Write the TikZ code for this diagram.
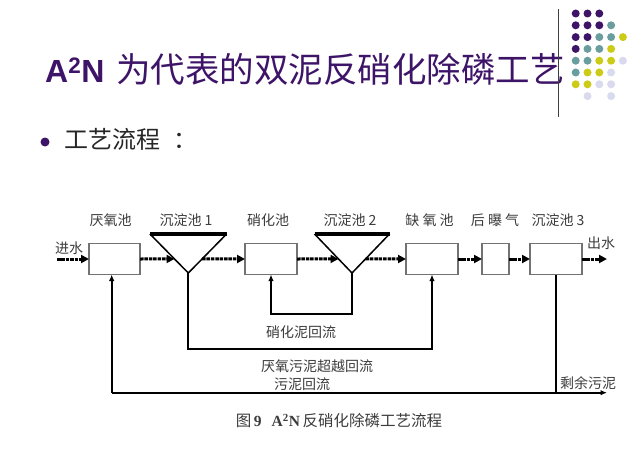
\documentclass[tikz,border=0pt]{standalone}
\usepackage{fontspec}
\setmainfont{Noto Sans CJK SC}
\newfontfamily\arialf{Liberation Sans}
\newfontfamily\tnrf{Liberation Serif}
\usetikzlibrary{arrows.meta,calc}
\definecolor{tpurple}{RGB}{62,20,104}
\definecolor{dteal}{RGB}{106,158,158}
\definecolor{dyellow}{RGB}{204,204,24}
\definecolor{dlav}{RGB}{218,218,238}
\definecolor{lbl}{RGB}{60,60,60}
\tikzset{
  box/.style={draw=black!55,line width=1.3pt,fill=white,minimum height=31pt,inner sep=0pt,outer sep=0pt},
  tri/.style={minimum width=#1,minimum height=39pt,inner sep=0pt,outer sep=0pt},
  triside/.style={draw=black,line width=1.5pt,line join=miter},
  tribar/.style={draw=black,line width=3.2pt},
  flow/.style={line width=3pt,dash pattern=on 3.5pt off 0.9pt,-{Triangle[length=8pt,width=8pt]}},
  ret/.style={draw=black,line width=1.8pt},
  retarrow/.style={ret,-{Latex[length=6.5pt,width=5.5pt]}},
  lab/.style={font=\fontsize{14}{16}\selectfont,text=lbl,inner sep=0pt},
}
\begin{document}
\begin{tikzpicture}[x=1pt,y=-1pt]
\fill[white] (0,0) rectangle (642,476);
\useasboundingbox (0,0) rectangle (642,476);

% title
\node[anchor=base west,inner sep=0pt,text=tpurple] (title) at (45,83)
  {{\arialf\bfseries\fontsize{32}{36}\selectfont A\textsuperscript{2}N}\hspace{12pt}{\fontsize{34.5}{40}\selectfont 为代表的双泥反硝化除磷工艺}};

% vertical rule and dots
\draw[black!75,line width=1pt] (558,9) -- (558,117);
\foreach \c/\r in {1/1,2/1,3/1,1/2,2/2,3/2,1/3,2/3,1/4}
  \fill[tpurple] ({563.9+11.8*\c},{1.7+11.8*\r}) circle[radius=4pt];
\foreach \c/\r in {4/2,3/3,4/3,2/4,3/4,1/5,2/5,1/6}
  \fill[dteal] ({563.9+11.8*\c},{1.7+11.8*\r}) circle[radius=4pt];
\foreach \c/\r in {5/3,4/4,3/5,4/5,2/6,3/6,1/7,2/7}
  \fill[dyellow] ({563.9+11.8*\c},{1.7+11.8*\r}) circle[radius=4pt];
\foreach \c/\r in {5/5,4/6,3/7,4/7,2/8,4/8}
  \fill[dlav] ({563.9+11.8*\c},{1.7+11.8*\r}) circle[radius=4pt];

% bullet line
\fill[tpurple] (45,142) circle[radius=4.5pt];
\node[anchor=base west,inner sep=0pt,text=black!85] (sub) at (64,148.5)
  {\fontsize{24}{28}\selectfont 工艺流程\hspace{13pt}：};

% boxes
\node[box,minimum width=51pt] (b1) at (114.5,259) {};
\node[box,minimum width=52pt] (b2) at (271,259) {};
\node[box,minimum width=52pt] (b3) at (432,259) {};
\node[box,minimum width=27pt] (b4) at (495.5,259) {};
\node[box,minimum width=52pt] (b5) at (556,259) {};

% settling tanks (inverted triangles)
\node[tri=76.6pt] (t1) at (188.3,253.5) {};
\node[tri=75pt] (t2) at (352,253.5) {};
\foreach \t in {t1,t2}{
  \draw[triside] (\t.north west) -- (\t.south) -- (\t.north east);
  \draw[tribar] (\t.north west) -- (\t.north east);
}
\coordinate (t1i) at ($(t1.north west)!0.64!(t1.south)$);
\coordinate (t1o) at ($(t1.north east)!0.64!(t1.south)$);
\coordinate (t2i) at ($(t2.north west)!0.64!(t2.south)$);
\coordinate (t2o) at ($(t2.north east)!0.64!(t2.south)$);
\coordinate (win) at (57,259);
\coordinate (wout) at (607,259);

% main flow
\draw[flow] (win) -- (b1.west);
\draw[flow] (b1.east) -- (t1i);
\draw[flow] (t1o) -- (b2.west);
\draw[flow] (b2.east) -- (t2i);
\draw[flow] (t2o) -- (b3.west);
\draw[flow] (b3.east) -- (b4.west);
\draw[flow] (b4.east) -- (b5.west);
\draw[flow] (b5.east) -- (wout);

% return lines
\draw[retarrow] (t2.south) -- ++(0,41.3) -| (b2.south);
\draw[retarrow] (t1.south) -- ++(0,76.3) -| (b3.south);
\coordinate (bl) at (111.7,392.7);
\coordinate (sl) at (607,392.7);
\draw[ret] (b5.south) -- (b5.south |- sl);
\draw[retarrow] (bl) -- (bl |- b1.south);
\draw[retarrow] (bl) -- (sl);

% labels
\node[lab] (l1) at (110.5,220) {厌氧池};
\node[lab] (l2) at (186,220) {沉淀池 1};
\node[lab] (l3) at (268,220) {硝化池};
\node[lab] (l4) at (350,220) {沉淀池 2};
\node[lab] (l5) at (429.5,220) {缺 氧 池};
\node[lab] (l6) at (495,220) {后 曝 气};
\node[lab] (l7) at (558,220) {沉淀池 3};
\node[lab] (lin) at (69,248) {进水};
\node[lab] (lout) at (601,243) {出水};
\node[lab] (r1) at (301,332) {硝化泥回流};
\node[lab] (r2) at (317,366.5) {厌氧污泥超越回流};
\node[lab] (r3) at (302,384.5) {污泥回流};
\node[lab] (r4) at (588,383) {剩余污泥};

% caption
\node[lab,font=\fontsize{15.5}{18}\selectfont] (cap) at (339,421)
  {图\,{\tnrf\bfseries 9}\hspace{10pt}{\tnrf\bfseries A\textsuperscript{2}N}\,反硝化除磷工艺流程};
\end{tikzpicture}
\end{document}
